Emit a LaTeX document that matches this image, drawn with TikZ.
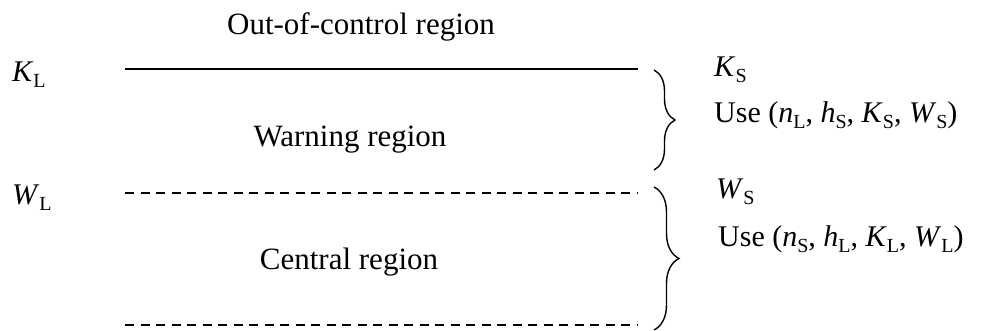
\documentclass[tikz,border=0pt]{standalone}
\usepackage{fontspec}
\setmainfont{Liberation Serif}
\usetikzlibrary{decorations.pathreplacing}
% italic symbol with upright, lowered subscript
\newcommand\symsub[2]{\textit{#1}\raisebox{-0.2em}{\fontsize{20}{20}\selectfont #2}}
\tikzset{
  lbl/.style={inner sep=0pt, anchor=base west, font=\fontsize{30}{36}\selectfont},
  ctr/.style={inner sep=0pt, anchor=base, font=\fontsize{31}{37}\selectfont},
  limitline/.style={line width=1.5pt},
  warnline/.style={line width=1.5pt, dash pattern=on 9pt off 6.5pt},
  regionbrace/.style={line width=1.4pt, decorate, decoration={brace, amplitude=#1}},
}
\begin{document}
\begin{tikzpicture}[x=1pt, y=1pt]
  \useasboundingbox (0,0) rectangle (988,331);

  % limit lines
  \coordinate (kl0) at (125,262);
  \coordinate (kl1) at (638,262);
  \coordinate (wl0) at (125,138);
  \coordinate (wl1) at (638,138);
  \coordinate (cl0) at (125,6);
  \coordinate (cl1) at (638,6);
  \draw[limitline] (kl0) -- (kl1);
  \draw[warnline] (wl0) -- (wl1);
  \draw[warnline] (cl0) -- (cl1);

  % region names
  \node[ctr] (outreg) at (361,296) {Out-of-control region};
  \node[ctr] (warnreg) at (350,184) {Warning region};
  \node[ctr] (centreg) at (349,61) {Central region};

  % left limit labels
  \node[lbl] (KL) at (12,249) {\symsub{K}{L}};
  \node[lbl] (WL) at (12,126) {\symsub{W}{L}};

  % braces
  \coordinate (b1t) at (654,261);
  \coordinate (b1b) at (654,161);
  \coordinate (b2t) at (654,144);
  \coordinate (b2b) at (654,1);
  \draw[regionbrace=21pt] (b1t) -- (b1b);
  \draw[regionbrace=25pt] (b2t) -- (b2b);

  % right labels
  \node[lbl] (KS) at (714,254) {\symsub{K}{S}};
  \node[lbl] (use1) at (714,208) {Use (\symsub{n}{L}, \symsub{h}{S}, \symsub{K}{S}, \symsub{W}{S})};
  \node[lbl] (WS) at (716,132) {\symsub{W}{S}};
  \node[lbl] (use2) at (718,84) {Use (\symsub{n}{S}, \symsub{h}{L}, \symsub{K}{L}, \symsub{W}{L})};
\end{tikzpicture}
\end{document}
